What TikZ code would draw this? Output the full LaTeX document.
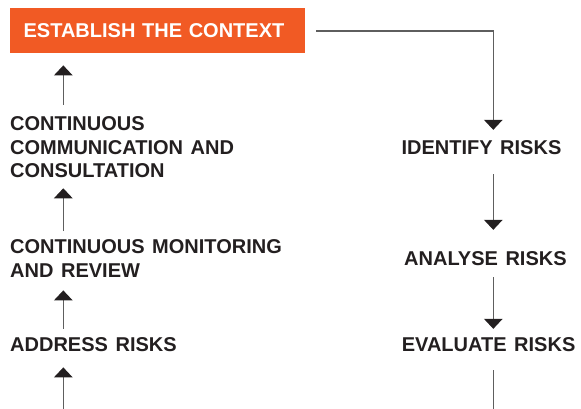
\documentclass[tikz,border=0pt]{standalone}
\usepackage{fontspec}
\setmainfont{Liberation Sans}[WordSpace=1.37]
\usetikzlibrary{arrows.meta}
\definecolor{orng}{HTML}{F15A24}
\definecolor{ink}{HTML}{231F20}
\definecolor{wire}{HTML}{5E5E5E}
\begin{document}
\begin{tikzpicture}[x=1pt,y=-1pt,
  lblfont/.style={font=\fontsize{20}{23.7}\selectfont\bfseries},
  lbl/.style={lblfont, text=ink, inner sep=0pt, anchor=base west, align=left},
  wirel/.style={draw=wire, line width=1.2pt},
  arr/.style={wirel, -{Triangle[width=18.5pt,length=10pt,color=ink]}}]
\useasboundingbox (0,0) rectangle (581,409);
\coordinate (xl) at (63.3,0);
\coordinate (xr) at (493.3,0);
\coordinate (bot) at (0,409);
\node[lblfont, fill=orng, text=white, inner xsep=13.4pt, inner ysep=0pt,
      text width=268.2pt, align=left, minimum height=45pt, anchor=north west]
      (ctx) at (10,8.3) {ESTABLISH THE CONTEXT};
% multi-line nodes: base anchor sits on the last line
\node[lbl] (comm) at (10,177.9) {CONTINUOUS\\COMMUNICATION AND\\CONSULTATION};
\node[lbl] (mon) at (10,277.2) {CONTINUOUS MONITORING\\AND REVIEW};
\node[lbl] (addr) at (10,351.7) {ADDRESS RISKS};
\node[lbl] (iden) at (401.3,155) {IDENTIFY RISKS};
\node[lbl] (anal) at (404,265) {ANALYSE RISKS};
\node[lbl] (eval) at (401.6,351.7) {EVALUATE RISKS};
% right column (downwards)
\draw[arr, shorten <=11pt] (ctx.east) -| ([yshift=11pt]iden.north -| xr);
\draw[arr] ([yshift=-19pt]iden.south -| xr) -- ([yshift=21pt]anal.north -| xr);
\draw[arr] ([yshift=-11.7pt]anal.south -| xr) -- ([yshift=8.7pt]eval.north -| xr);
\draw[wirel] ([yshift=-18.3pt]eval.south -| xr) -- (bot -| xr);
% left column (upwards)
\draw[arr] ([yshift=11.7pt]comm.north -| xl) -- ([yshift=-11.7pt]ctx.south -| xl);
\draw[arr] ([yshift=8.3pt]mon.north -| xl) -- ([yshift=-10pt]comm.south -| xl);
\draw[arr] ([yshift=9pt]addr.north -| xl) -- ([yshift=-13pt]mon.south -| xl);
\draw[arr] (bot -| xl) -- ([yshift=-15.3pt]addr.south -| xl);
\end{tikzpicture}
\end{document}
